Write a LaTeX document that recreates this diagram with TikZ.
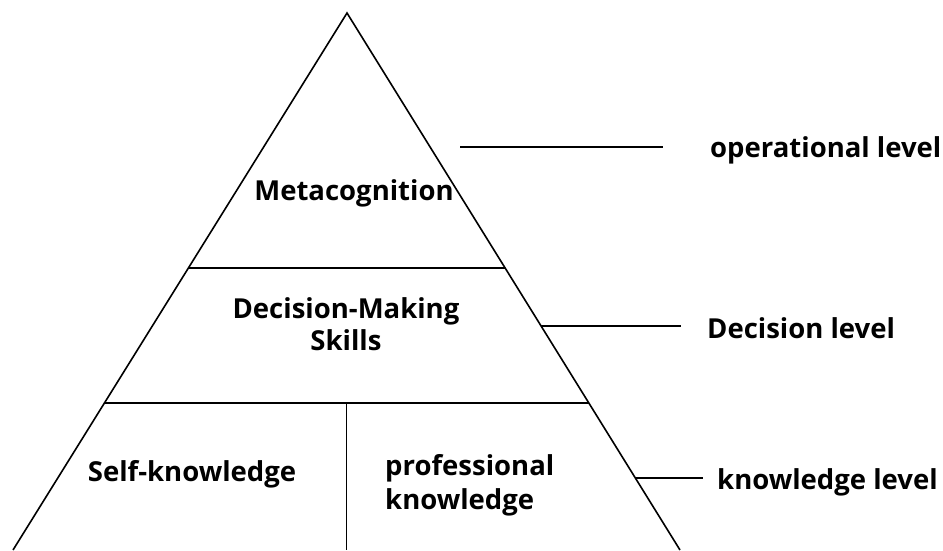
\documentclass[tikz,border=0pt]{standalone}
\usepackage{fontspec}
\setmainfont{Open Sans}
\usetikzlibrary{calc,positioning}

\tikzset{
  edge/.style={line width=1.6pt, black},
  label/.style={font=\fontsize{27.5}{32}\selectfont\bfseries, inner sep=0pt},
  levellabel/.style={label, anchor=west},
}

\begin{document}
\begin{tikzpicture}[x=1pt, y=-1pt]
    \useasboundingbox (0,0) rectangle (943,550);

    % Pyramid outline
    \coordinate (apex) at (347,13);
    \coordinate (baseL) at (13,550);
    \coordinate (baseR) at (680,550);
    \draw[edge, line join=miter] (baseL) -- (apex) -- (baseR);

    % Tier boundaries
    \coordinate (topL) at ($(apex)!0.475!(baseL)$);
    \coordinate (topR) at ($(apex)!0.475!(baseR)$);
    \coordinate (midL) at ($(apex)!0.726!(baseL)$);
    \coordinate (midR) at ($(apex)!0.726!(baseR)$);
    \coordinate (split) at ($(midL)!0.5!(midR)$);
    \coordinate (splitEnd) at (split |- baseL);
    \draw[edge] (topL) -- (topR);
    \draw[edge] (midL) -- (midR);
    \draw[edge] (split) -- (splitEnd);

    % Tier texts
    \node[label] (meta) at (354,193) {Metacognition};
    \node[label, align=center] (decide) at (346,324) {Decision-Making\\Skills};
    \node[label] (self) at (192,474) {Self-knowledge};
    \node[label, align=left, anchor=west, font=\fontsize{27.5}{34}\selectfont\bfseries] (prof) at (385,485) {professional\\knowledge};

    % Level names
    \node[levellabel] (oplevel) at (710,150) {operational level};
    \node[levellabel] (declevel) at (707,328) {Decision level};
    \node[levellabel] (knowlevel) at (717,482) {knowledge level};

    % Leader lines
    \coordinate (opA) at (460,147);
    \coordinate (opB) at (663,147);
    \coordinate (decA) at ($(apex)!0.583!(baseR)$);
    \coordinate (decB) at (681,326);
    \coordinate (knowA) at ($(apex)!0.866!(baseR)$);
    \coordinate (knowB) at (703,478);
    \draw[edge] (opA) -- (opB);
    \draw[edge] (decA) -- (decB |- decA);
    \draw[edge] (knowA) -- (knowB |- knowA);
\end{tikzpicture}
\end{document}
